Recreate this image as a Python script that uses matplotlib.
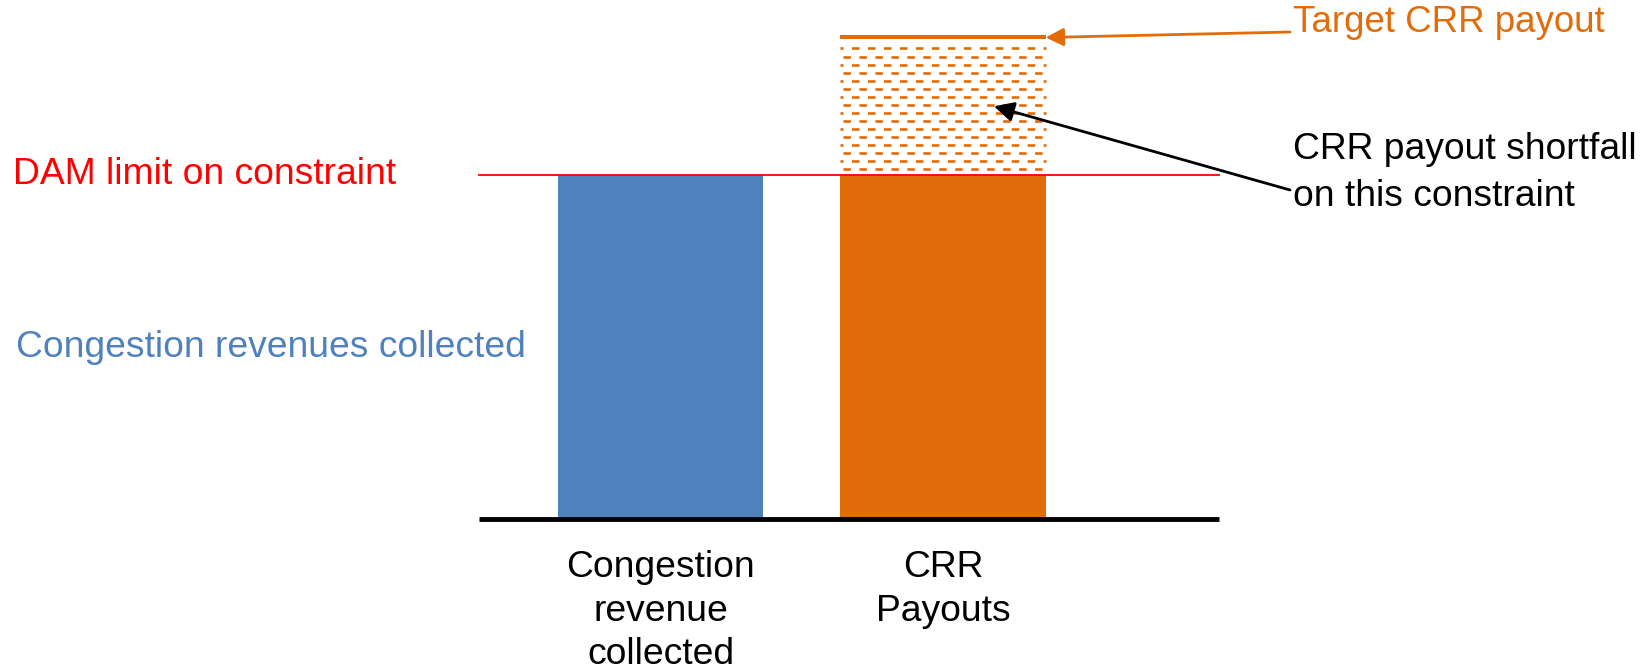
import matplotlib.pyplot as plt
import numpy as np

plt.rcParams['font.family'] = ['Liberation Sans', 'DejaVu Sans']
plt.rcParams['lines.scale_dashes'] = False

# data
categories = ["Congestion\nrevenue\ncollected", "CRR\nPayouts"]
bar_values = [100, 100]
dam_limit = 100
target_payout = 140

BLUE = '#4F81BD'
ORANGE = '#E36C0A'
W, H = 1651, 672
FS = 26.8

fig = plt.figure(figsize=(W / 100, H / 100), dpi=100)
ax = fig.add_axes([0, 0, 1, 1])
ax.set_xlim(-2.338, 3.506)
ax.set_ylim(-44.5, 150.9)
ax.axis('off')

x = np.arange(len(categories))
bw = 0.726
ax.bar(x, bar_values, width=bw, color=[BLUE, ORANGE], zorder=2)

# baseline and DAM limit
ax.plot([-0.642, 1.977], [0, 0], color='black', lw=3.5, solid_capstyle='butt', zorder=3)
ax.plot([-0.642, 1.977], [dam_limit, dam_limit], color='red', lw=1.3, zorder=3)

# shortfall region: dashed rows, staggered
rows = np.linspace(136.8, 101.8, 16)
for i, yy in enumerate(rows):
    off = 3.2 if i % 2 == 0 else 9.4
    ax.plot([x[1] - bw / 2, x[1] + bw / 2], [yy, yy], color=ORANGE, lw=1.9,
            linestyle=(off, (5.4, 6.1)), dash_capstyle='butt')

# target payout line
ax.plot([x[1] - bw / 2, x[1] + bw / 2], [target_payout] * 2, color=ORANGE, lw=2.9,
        solid_capstyle='butt')

# arrows
ax.annotate("", xy=(x[1] + bw / 2, target_payout), xytext=(1290 / W, 1 - 32 / H),
            textcoords='figure fraction',
            arrowprops=dict(arrowstyle='-|>', color=ORANGE, lw=2, mutation_scale=27,
                            shrinkA=0, shrinkB=0))
ax.annotate("", xy=(1.18, 120), xytext=(1290 / W, 1 - 190 / H),
            textcoords='figure fraction',
            arrowprops=dict(arrowstyle='-|>', color='black', lw=2, mutation_scale=30,
                            shrinkA=0, shrinkB=0))

# text labels
fig.text(1293 / W, 1 - 23 / H, "Target CRR payout", color=ORANGE, fontsize=26.4, va='center')
fig.text(1293 / W, 1 - 173 / H, "CRR payout shortfall\non this constraint", color='black',
         fontsize=FS, va='center', linespacing=1.45)
fig.text(13 / W, 1 - 174 / H, "DAM limit on constraint", color='red', fontsize=FS, va='center')
fig.text(16 / W, 1 - 347 / H, "Congestion revenues collected", color=BLUE, fontsize=FS,
         va='center')

for xi, lab in zip(x, categories):
    ax.text(xi, -9.0, lab, ha='center', va='top', fontsize=FS, linespacing=1.32)

fig.savefig('out.png', dpi=100)
